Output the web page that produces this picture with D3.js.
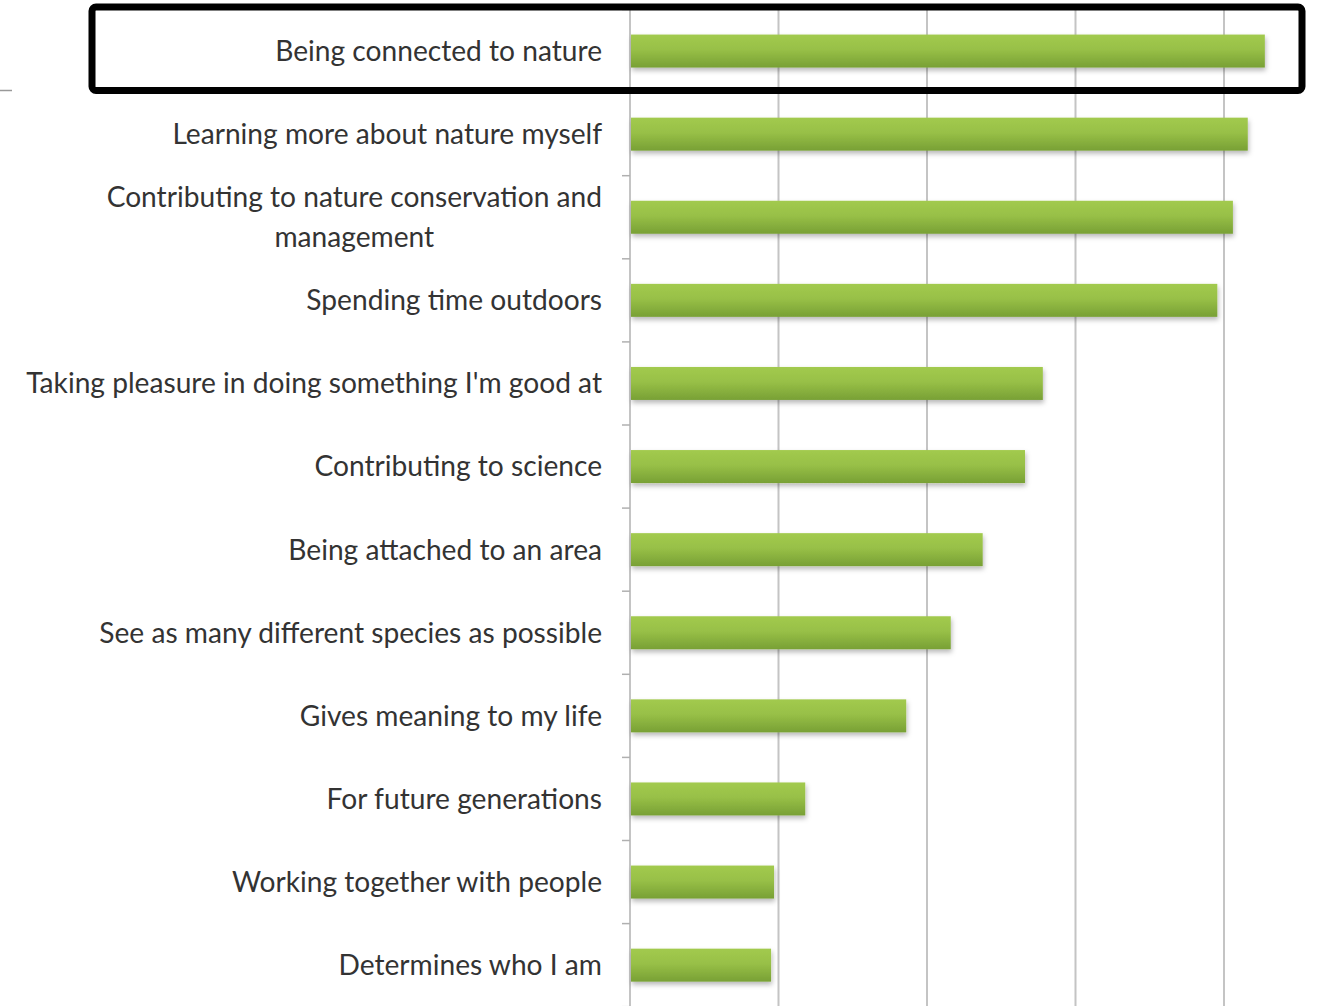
<!DOCTYPE html>
<html><head><meta charset="utf-8">
<script src="https://cdn.jsdelivr.net/npm/d3@7"></script>
<style>html,body{margin:0;padding:0;background:#fff;overflow:hidden}</style>
</head><body>
<svg id="chart" width="1317" height="1006"></svg>
<script>
const categories = [
  ["Being connected to nature"],
  ["Learning more about nature myself"],
  ["Contributing to nature conservation and", "management"],
  ["Spending time outdoors"],
  ["Taking pleasure in doing something I'm good at"],
  ["Contributing to science"],
  ["Being attached to an area"],
  ["See as many different species as possible"],
  ["Gives meaning to my life"],
  ["For future generations"],
  ["Working together with people"],
  ["Determines who I am"]
];
const values = [85.5, 83.2, 81.2, 79.1, 55.6, 53.2, 47.5, 43.2, 37.2, 23.6, 19.4, 19.0];
const gridTicks = [0, 20, 40, 60, 80, 100];

const svg = d3.select("#chart");
const defs = svg.append("defs");
const grad = defs.append("linearGradient").attr("id","barGrad").attr("x1",0).attr("y1",0).attr("x2",0).attr("y2",1);
grad.append("stop").attr("offset","0%").attr("stop-color","#a2ca4e");
grad.append("stop").attr("offset","45%").attr("stop-color","#98c047");
grad.append("stop").attr("offset","100%").attr("stop-color","#78a035");
const filt = defs.append("filter").attr("id","shadow").attr("x","-5%").attr("y","-30%").attr("width","110%").attr("height","180%");
filt.append("feDropShadow").attr("dx",1).attr("dy",3).attr("stdDeviation",2.5).attr("flood-color","#000").attr("flood-opacity",0.28);

const keys = categories.map((c,i)=>i);
const x = d3.scaleLinear().domain([0,100]).range([630, 1372.5]);
const y = d3.scaleBand().domain(keys).range([9.5, 1006.7]).paddingInner(0.603).paddingOuter(0.3015);

// gridlines
svg.append("g").selectAll("line").data(gridTicks).join("line")
  .attr("x1", d=>x(d)).attr("x2", d=>x(d))
  .attr("y1", 9.5).attr("y2", 1006)
  .attr("stroke", "#c4c4c4").attr("stroke-width", 2);

// y-axis tick marks at band boundaries
const step = y.step();
const boundaries = d3.range(categories.length + 1).map(k => 9.5 + k*step);
svg.append("g").selectAll("line").data(boundaries).join("line")
  .attr("x1", 622).attr("x2", 630)
  .attr("y1", d=>d).attr("y2", d=>d)
  .attr("stroke", "#b0b0b0").attr("stroke-width", 1.5);

// bars
svg.append("g").selectAll("rect").data(values).join("rect")
  .attr("x", x(0)+1).attr("y", (d,i)=>y(i))
  .attr("width", d=>x(d)-x(0)-1).attr("height", y.bandwidth())
  .attr("fill", "url(#barGrad)").attr("filter","url(#shadow)");

// labels
const fontFamily = "Lato, 'Open Sans', sans-serif";
const labelG = svg.append("g").attr("font-family", fontFamily).attr("fill", "#333");
// calibrate font size against first label width (~327px)
const probe = labelG.append("text").attr("font-size", 28).text(categories[0][0]);
let fs = 28 * 327 / probe.node().getComputedTextLength();
probe.remove();
const lineH = fs * 1.42;
const rightX = 602;
categories.forEach((lines, i) => {
  const cy = y(i) + y.bandwidth()/2;
  if (lines.length === 1) {
    labelG.append("text").attr("x", rightX).attr("y", cy).attr("dy","0.35em")
      .attr("text-anchor","end").attr("font-size", fs).text(lines[0]);
  } else {
    const t = labelG.append("text").attr("font-size", fs).text(lines[0]);
    const w = t.node().getComputedTextLength();
    t.remove();
    const cx = rightX - w/2;
    lines.forEach((ln, j) => {
      labelG.append("text").attr("x", cx)
        .attr("y", cy + (j - (lines.length-1)/2)*lineH).attr("dy","0.35em")
        .attr("text-anchor","middle").attr("font-size", fs).text(ln);
    });
  }
});

// small stray line at left
svg.append("line").attr("x1",0).attr("x2",12).attr("y1",90.5).attr("y2",90.5)
  .attr("stroke","#999").attr("stroke-width",1.5);

// highlight box around first row
svg.append("rect").attr("x", 92).attr("y", 7).attr("width", 1210).attr("height", 83.5)
  .attr("rx", 4).attr("fill","none").attr("stroke","#000").attr("stroke-width", 7);
</script>
</body></html>
